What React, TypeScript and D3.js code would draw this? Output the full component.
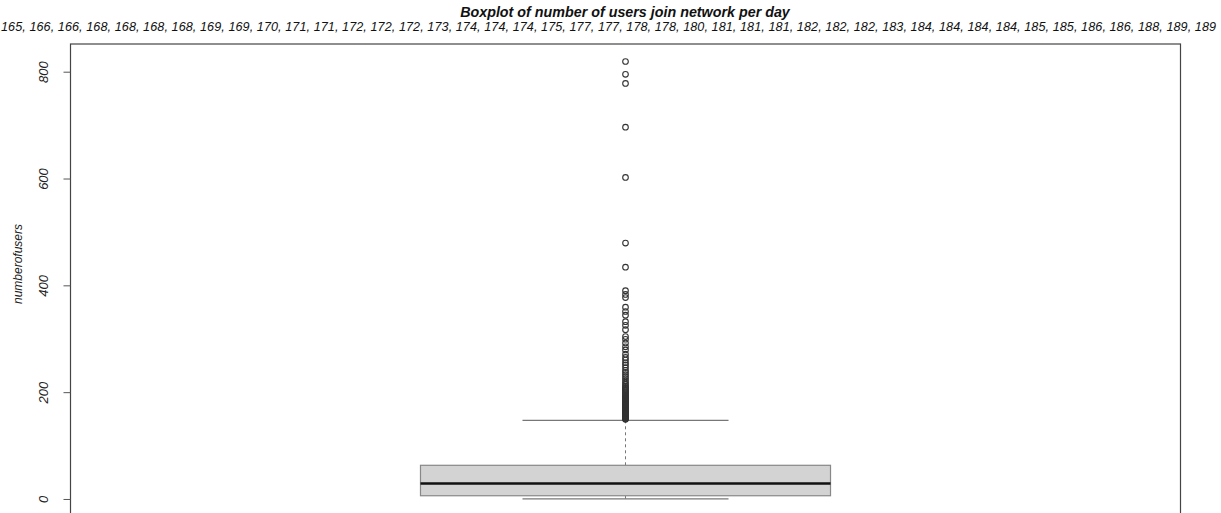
import React from "react";
import * as d3 from "d3";

const title = "Boxplot of number of users join network per day";
const yLabel = "numberofusers";
const yTicks = [0, 200, 400, 600, 800];
const topLabels = [165, 166, 166, 168, 168, 168, 168, 169, 169, 170, 171, 171, 172, 172, 172, 173, 174, 174, 174, 175, 177, 177, 178, 178, 180, 181, 181, 181, 182, 182, 182, 183, 184, 184, 184, 184, 185, 185, 186, 186, 188, 189, 189];
const boxStats = { lower: 1, q1: 7, median: 30, q3: 64, upper: 148 };
const outliers = [
  150, 151, 152, 153, 154, 155, 156, 157, 158, 159, 160, 161, 162, 163, 164, 165, 166, 167, 168, 169,
  170, 171, 172, 173, 174, 175, 176, 177, 178, 179, 180, 182, 183, 184, 186, 187, 188, 190, 191, 193,
  195, 196, 198, 200, 202, 204, 206, 208, 210, 212, 215, 218, 222, 226, 230, 234, 238, 242, 247, 252,
  256, 261, 266, 272, 280, 286, 293, 300, 305, 318, 326, 333, 345, 352, 360, 378, 384, 391, 435, 480,
  603, 697, 779, 796, 820,
];

export default function App() {
  const W = 1221, H = 513;
  const left = 70.5, right = 1180.5, top = 44, bottom = 517;
  const dataMin = 0, dataMax = d3.max(outliers) as number;
  const pad = (dataMax - dataMin) * 0.04;
  const y = d3.scaleLinear().domain([dataMin - pad, dataMax + pad]).range([bottom, top]);
  const x = d3.scaleLinear().domain([0.5, 1.5]).range([left, right]);
  const cx = x(1);
  const bw = x(1.1847) - x(1);
  const cw = x(1.0928) - x(1);
  const font = "'Liberation Sans', Arial, sans-serif";
  return (
    <svg width={W} height={H} style={{ position: "absolute", left: 0, top: 0, background: "#fff" }} fontFamily={font}>
      <text x={625} y={17} textAnchor="middle" fontSize={14.3} fontWeight="bold" fontStyle="italic" fill="#111">{title}</text>
      <text x={1} y={31} fontSize={12.6} fontStyle="italic" fill="#111" textLength={1215} lengthAdjust="spacing">{topLabels.join(", ")}</text>
      <rect x={left} y={top} width={right - left} height={bottom + 20 - top} fill="none" stroke="#444" strokeWidth={1.2} />
      {yTicks.map((t) => (
        <g key={t}>
          <line x1={left - 7} x2={left} y1={y(t)} y2={y(t)} stroke="#555" />
          <text transform={`translate(${left - 27},${y(t)}) rotate(-90)`} textAnchor="middle" dy="0.35em" fontSize={13} fontStyle="italic" fill="#222">{t}</text>
        </g>
      ))}
      <text transform={`translate(18,264) rotate(-90)`} textAnchor="middle" dy="0.35em" fontSize={12} fontStyle="italic" fill="#222">{yLabel}</text>
      <line x1={cx} x2={cx} y1={y(boxStats.q3)} y2={y(boxStats.upper)} stroke="#777" strokeDasharray="3,3" />
      <line x1={cx} x2={cx} y1={y(boxStats.q1)} y2={y(boxStats.lower)} stroke="#777" strokeDasharray="3,3" />
      <line x1={cx - cw} x2={cx + cw} y1={y(boxStats.upper)} y2={y(boxStats.upper)} stroke="#777" strokeWidth={1.2} />
      <line x1={cx - cw} x2={cx + cw} y1={y(boxStats.lower)} y2={y(boxStats.lower)} stroke="#777" strokeWidth={1.2} />
      <rect x={cx - bw} y={y(boxStats.q3)} width={2 * bw} height={y(boxStats.q1) - y(boxStats.q3)} fill="#d3d3d3" stroke="#888" strokeWidth={1.2} />
      <line x1={cx - bw} x2={cx + bw} y1={y(boxStats.median)} y2={y(boxStats.median)} stroke="#111" strokeWidth={2.5} />
      {outliers.map((v, i) => (
        <circle key={i} cx={cx} cy={y(v)} r={2.8} fill="none" stroke="#333" strokeWidth={1.1} />
      ))}
    </svg>
  );
}
